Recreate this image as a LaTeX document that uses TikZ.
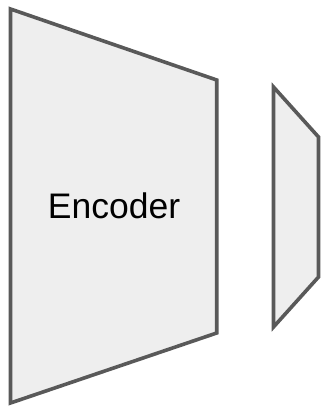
\documentclass[tikz,border=0pt]{standalone}
\usepackage{fontspec}
\setmainfont{Liberation Sans}
\definecolor{edge}{HTML}{595959}
\definecolor{panel}{HTML}{EEEEEE}
\begin{document}
\begin{tikzpicture}[x=1pt,y=-1pt,
  block/.style={draw=edge,fill=panel,line width=3.6pt,line join=miter}]
\useasboundingbox (0,0) rectangle (321,406);
% encoder trapezoid
\draw[block] (10.5,9) coordinate (e1) -- (216.7,80) coordinate (e2)
  -- (216.7,333) coordinate (e3) -- (10.5,403) coordinate (e4) -- cycle;
\node[anchor=base,font=\fontsize{35.5}{40}\selectfont,inner sep=0pt] (enc) at (114,218.3) {Encoder};
% small trapezoid on the right
\draw[block] (273.5,87) coordinate (d1) -- (318.5,137) coordinate (d2)
  -- (318.5,277) coordinate (d3) -- (273.5,327) coordinate (d4) -- cycle;
\end{tikzpicture}
\end{document}
